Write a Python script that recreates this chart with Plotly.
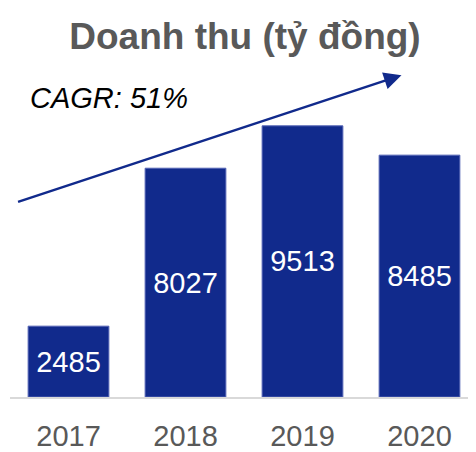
import plotly.graph_objects as go

years = ["2017", "2018", "2019", "2020"]
revenue = [2485, 8027, 9513, 8485]

bar_color = "#112A8C"
text_gray = "#595959"

# the page body has an 8px margin, so the figure is drawn 8px smaller
W, H = 468, 444

fig = go.Figure()

fig.add_trace(
    go.Bar(
        x=years,
        y=revenue,
        text=[str(v) for v in revenue],
        textposition="inside",
        insidetextanchor="middle",
        textfont=dict(family="Liberation Sans, Arial", size=29, color="white"),
        marker=dict(color=bar_color, line=dict(color="#5262B4", width=1)),
        width=0.69,
        cliponaxis=False,
    )
)

# trend arrow
fig.add_annotation(
    x=2.846, y=11290, xref="x", yref="y",
    ax=-0.444, ay=6830, axref="x", ayref="y",
    text="", showarrow=True,
    arrowhead=2, arrowsize=1.4, arrowwidth=2.5, arrowcolor=bar_color,
)

fig.add_annotation(
    text="<i>CAGR: 51%</i>",
    xref="paper", yref="paper",
    x=(28 - 10) / 466, y=(399 - 98) / 299,
    xanchor="left", yanchor="middle",
    showarrow=False,
    font=dict(family="Liberation Sans, Arial", size=29, color="black"),
)

fig.update_layout(
    title=dict(
        text="<b>Doanh thu (tỷ đồng)</b>",
        x=237 / W, xanchor="center",
        y=1 - 28 / H, yanchor="middle",
        font=dict(family="Liberation Sans, Arial", size=37, color=text_gray),
    ),
    width=W,
    height=H,
    margin=dict(l=2, r=0, t=92, b=53),
    plot_bgcolor="white",
    paper_bgcolor="white",
    showlegend=False,
    xaxis=dict(
        range=[-0.5, 3.483],
        showline=True, linecolor="#D9D9D9", linewidth=2,
        ticks="", showgrid=False,
        ticklabelstandoff=12,
        tickfont=dict(family="Liberation Sans, Arial", size=29, color=text_gray),
    ),
    yaxis=dict(
        range=[0, 10420],
        visible=False, showgrid=False, zeroline=False,
    ),
)

fig.write_html("out.html")
